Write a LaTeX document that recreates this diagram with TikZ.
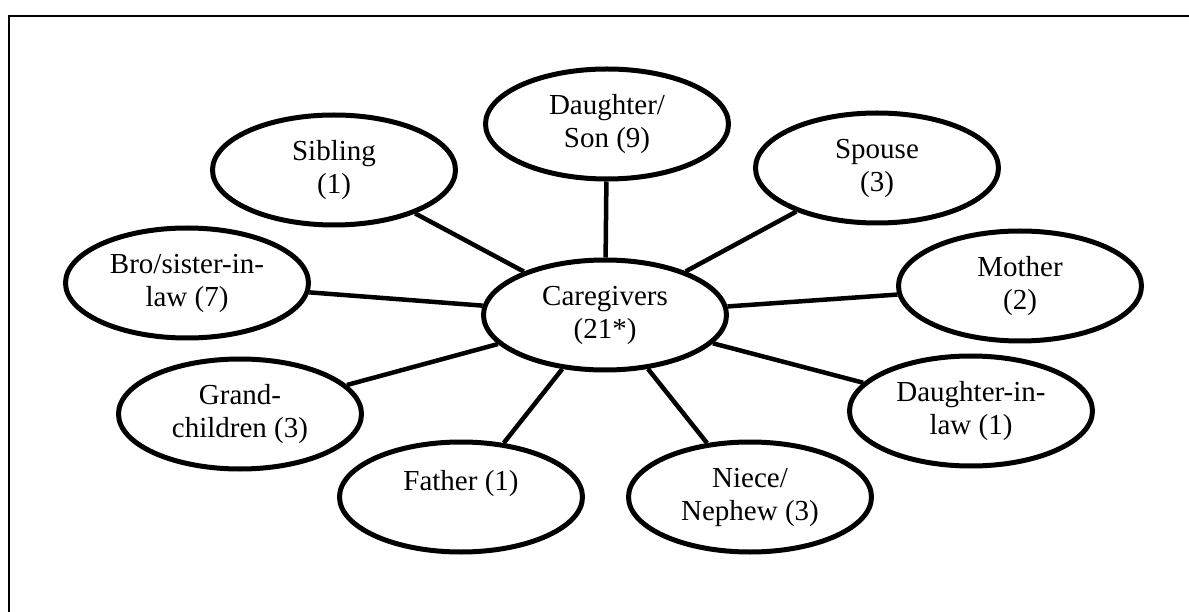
\documentclass[tikz,border=0pt]{standalone}
\usepackage{fontspec}
\setmainfont{Liberation Serif}
\usepackage{tikz}
\usetikzlibrary{shapes.geometric}
\tikzset{kin/.style = {shape=ellipse,draw,line width=5pt,minimum width=243pt,minimum height=110pt,inner sep=0pt,align=center,font=\fontsize{29}{33}\selectfont}}
\tikzset{tie/.style = {line width=4.5pt}}

\begin{document}
\begin{tikzpicture}[x=1pt,y=-1pt]
                    \useasboundingbox (0,0) rectangle (1189,612);
                    \draw[line width=2.5pt] (9,612) -- (9,16) -- (1189,16);

                    \node[kin] (care) at (605,315) {Caregivers\\(21*)};
                    \node[kin] (dau) at (607,124) {Daughter/\\Son (9)};
                    \node[kin] (sib) at (334,170) {Sibling\\(1)};
                    \node[kin] (spo) at (877,168) {Spouse\\(3)};
                    \node[kin] (bro) at (187,283) {Bro/sister-in-\\law (7)};
                    \node[kin] (mot) at (1020,286) {Mother\\(2)};
                    \node[kin] (gra) at (240,414) {Grand-\\children (3)};
                    \node[kin] (dil) at (971,411) {Daughter-in-\\law (1)};
                    \node[kin] (fat) at (461,497) {Father (1)\\\mbox{}};
                    \node[kin] (nie) at (750,497) {Niece/\\Nephew (3)};

                    \foreach \k in {dau,sib,spo,bro,mot,gra,dil,fat,nie} {
                      \draw[tie] (care) -- (\k);
                    }
                  \end{tikzpicture}
\end{document}
